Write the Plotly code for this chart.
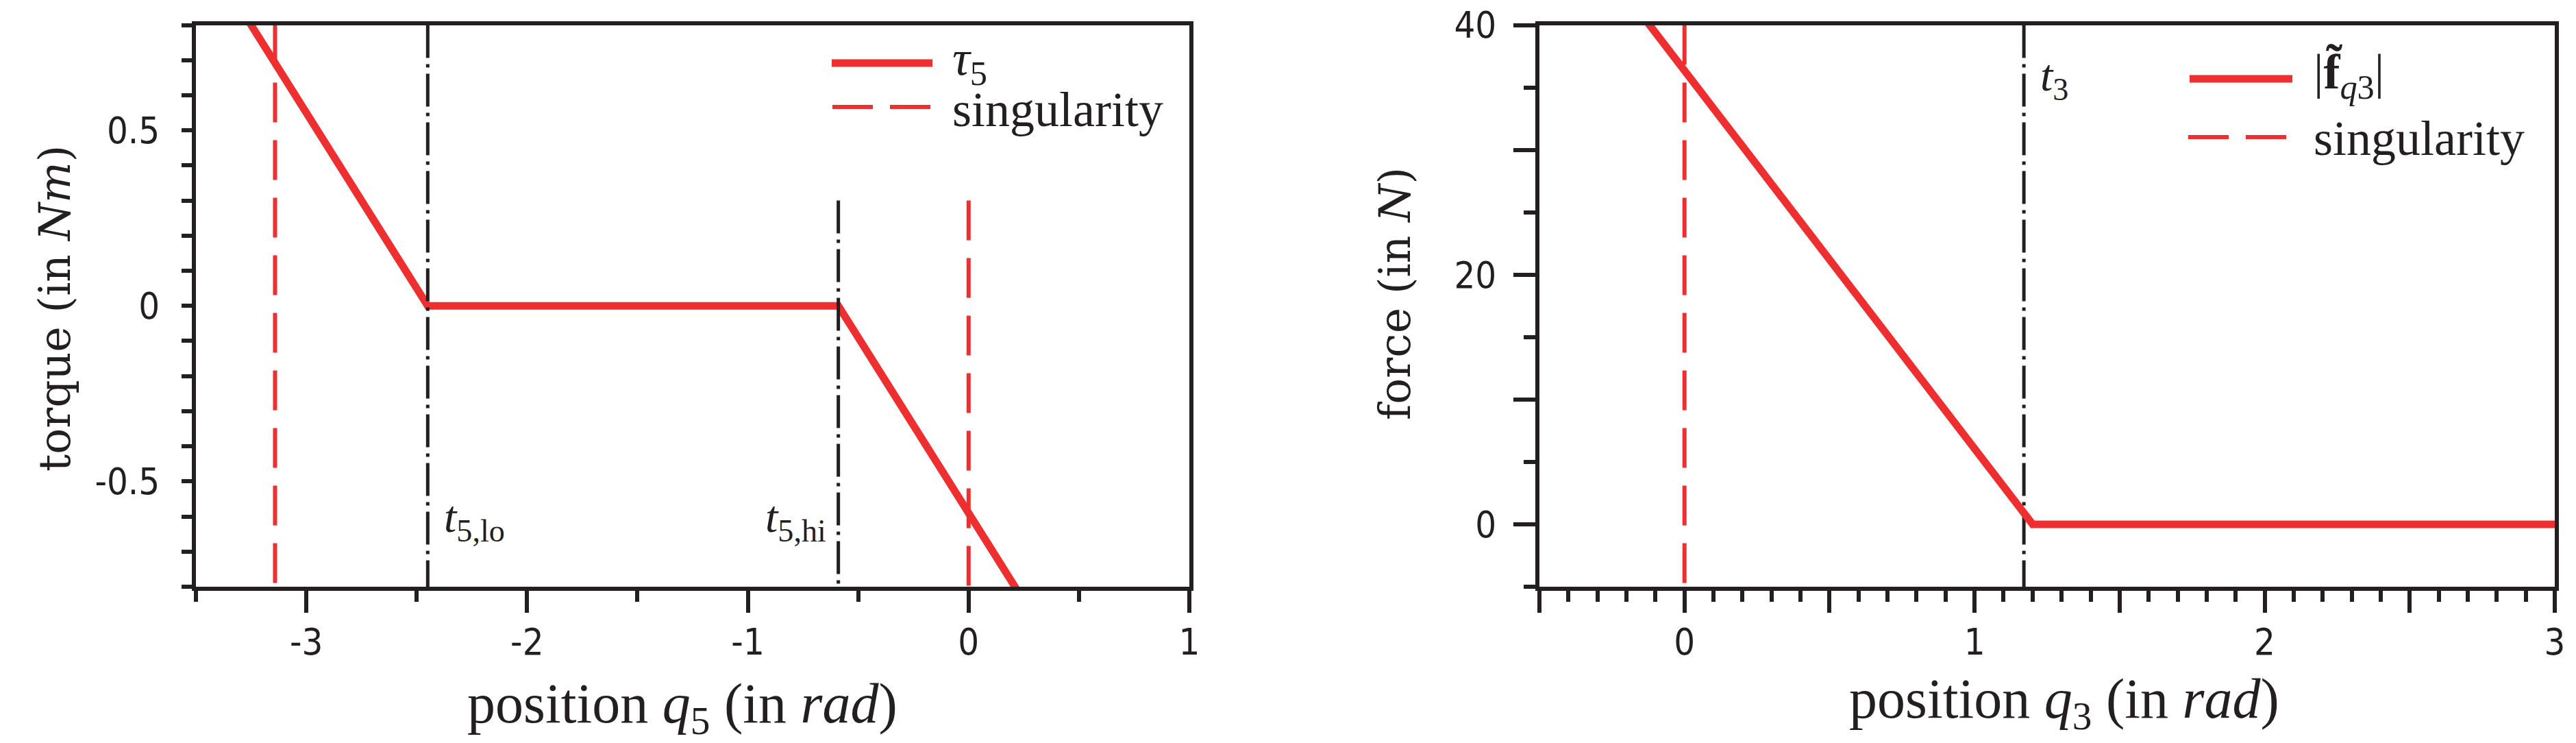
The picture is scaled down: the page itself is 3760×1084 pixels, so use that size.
import plotly.graph_objects as go

W, H = 3760, 1084
RED = "#EE2E2F"
BLACK = "#231F20"
SERIF = "Liberation Serif, Times New Roman, serif"
WIDE_SERIF = "DejaVu Serif, serif"
NARROW = "Liberation Sans Narrow, DejaVu Sans Condensed, Arial Narrow, sans-serif"

# ---------------- left panel data (torque vs q5) ----------------
q5 = [-3.30, -2.45, -0.59, 0.26]
tau5 = [0.85, 0.0, 0.0, -0.85]
q5_singular = [-3.1416, 0.0]
q5_singular_top = [0.8, 0.3]
t5_lo = -2.45
t5_hi = -0.59
t5_lo_top = 0.8
t5_hi_top = 0.3
x5_range = [-3.5, 1.0]
y5_range = [-0.8, 0.8]
x5_tickvals = [-3, -2, -1, 0, 1]
x5_ticktext = ["-3", "-2", "-1", "0", "1"]
y5_tickvals = [-0.5, 0, 0.5]
y5_ticktext = ["-0.5", "0", "0.5"]
t5_label_y = -0.61

# ---------------- right panel data (force vs q3) ----------------
q3 = [-0.16, 1.20, 3.0]
f3 = [41.2, 0.0, 0.0]
q3_singular = 0.0
t3 = 1.17
x3_range = [-0.5, 3.0]
y3_range = [-5, 40]
x3_tickvals = [-0.5, 0, 0.5, 1, 1.5, 2, 2.5, 3]
x3_ticktext = ["", "0", "", "1", "", "2", "", "3"]
y3_tickvals = [0, 10, 20, 30, 40]
y3_ticktext = ["0", "", "20", "", "40"]
t3_label_y = 35.7

SING_DASH = "58px,26px"
DASHDOT = "48px,9px,5px,9px"

fig = go.Figure()

# left panel
fig.add_trace(go.Scatter(x=q5, y=tau5, mode="lines", name="τ5",
                         line=dict(color=RED, width=11), showlegend=False,
                         xaxis="x", yaxis="y"))
for xs, top in zip(q5_singular, q5_singular_top):
    fig.add_trace(go.Scatter(x=[xs, xs], y=[top, y5_range[0]], mode="lines",
                             name="singularity", showlegend=False,
                             line=dict(color=RED, width=6, dash=SING_DASH),
                             xaxis="x", yaxis="y"))
for xs, top in [(t5_lo, t5_lo_top), (t5_hi, t5_hi_top)]:
    fig.add_trace(go.Scatter(x=[xs, xs], y=[top, y5_range[0]], mode="lines",
                             showlegend=False,
                             line=dict(color=BLACK, width=5, dash=DASHDOT),
                             xaxis="x", yaxis="y"))

# right panel
fig.add_trace(go.Scatter(x=[q3_singular, q3_singular], y=[y3_range[1], y3_range[0]],
                         mode="lines", name="singularity", showlegend=False,
                         line=dict(color=RED, width=6, dash=SING_DASH),
                         xaxis="x2", yaxis="y2"))
fig.add_trace(go.Scatter(x=[t3, t3], y=[y3_range[1], y3_range[0]], mode="lines",
                         showlegend=False,
                         line=dict(color=BLACK, width=5, dash=DASHDOT),
                         xaxis="x2", yaxis="y2"))
fig.add_trace(go.Scatter(x=q3, y=f3, mode="lines", name="|f̃q3|",
                         line=dict(color=RED, width=11), showlegend=False,
                         xaxis="x2", yaxis="y2"))

axis_common = dict(showline=True, linewidth=6, linecolor=BLACK, mirror=True,
                   ticks="outside", tickwidth=6, tickcolor=BLACK,
                   showgrid=False, zeroline=False, automargin=False,
                   tickfont=dict(family=NARROW, size=54, color=BLACK))

ydom = [1 - 856 / H, 1 - 36.5 / H]

fig.update_layout(
    width=W, height=H,
    margin=dict(l=0, r=0, t=0, b=0, pad=0, autoexpand=False),
    paper_bgcolor="white", plot_bgcolor="white",
    showlegend=False,
    xaxis=dict(domain=[286 / W, 1736 / W], range=x5_range, anchor="y",
               tickmode="array", tickvals=x5_tickvals, ticktext=x5_ticktext,
               ticklen=32, ticklabelstandoff=-4,
               minor=dict(tickmode="linear", tick0=0, dtick=0.5, ticklen=16,
                          tickwidth=6, tickcolor=BLACK, ticks="outside"),
               **axis_common),
    yaxis=dict(domain=ydom, range=y5_range, anchor="x",
               tickmode="array", tickvals=y5_tickvals, ticktext=y5_ticktext,
               ticklen=15, ticklabelstandoff=21,
               minor=dict(tickmode="linear", tick0=0, dtick=0.1, ticklen=15,
                          tickwidth=6, tickcolor=BLACK, ticks="outside"),
               **axis_common),
    xaxis2=dict(domain=[2247 / W, 3729 / W], range=x3_range, anchor="y2",
                tickmode="array", tickvals=x3_tickvals, ticktext=x3_ticktext,
                ticklen=32, ticklabelstandoff=-4,
                minor=dict(tickmode="linear", tick0=0, dtick=0.1, ticklen=16,
                           tickwidth=6, tickcolor=BLACK, ticks="outside"),
                **axis_common),
    yaxis2=dict(domain=ydom, range=y3_range, anchor="x2",
                tickmode="array", tickvals=y3_tickvals, ticktext=y3_ticktext,
                ticklen=32, ticklabelstandoff=14,
                minor=dict(tickmode="linear", tick0=0, dtick=5, ticklen=17,
                           tickwidth=6, tickcolor=BLACK, ticks="outside"),
                **axis_common),
)

xtitle_font = dict(family=SERIF, size=82, color=BLACK)
ytitle_font = dict(family=WIDE_SERIF, size=63, color=BLACK)
text_font = dict(family=SERIF, size=72, color=BLACK)
label_font = dict(family=SERIF, size=66, color=BLACK)
ann = []
# axis titles
ann.append(dict(text="position <i>q</i><sub>5</sub> (in <i>rad</i>)", xref="paper", yref="paper",
                x=996 / W, y=1 - 1032 / H, xanchor="center", yanchor="middle",
                showarrow=False, font=xtitle_font))
ann.append(dict(text="position <i>q</i><sub>3</sub> (in <i>rad</i>)", xref="paper", yref="paper",
                x=3013 / W, y=1 - 1025 / H, xanchor="center", yanchor="middle",
                showarrow=False, font=xtitle_font))
ann.append(dict(text="torque (in <i>Nm</i>)", xref="paper", yref="paper",
                x=80 / W, y=1 - 450 / H, xanchor="center", yanchor="middle",
                textangle=-90, showarrow=False, font=ytitle_font))
ann.append(dict(text="force (in <i>N</i>)", xref="paper", yref="paper",
                x=2036 / W, y=1 - 429 / H, xanchor="center", yanchor="middle",
                textangle=-90, showarrow=False, font=ytitle_font))
# threshold labels
ann.append(dict(text="<i>t</i><sub>5,lo</sub>", xref="x", yref="y", x=t5_lo, y=t5_label_y,
                xanchor="left", yanchor="middle", xshift=22, showarrow=False,
                font=label_font))
ann.append(dict(text="<i>t</i><sub>5,hi</sub>", xref="x", yref="y", x=t5_hi, y=t5_label_y,
                xanchor="right", yanchor="middle", xshift=-16, showarrow=False,
                font=label_font))
ann.append(dict(text="<i>t</i><sub>3</sub>", xref="x2", yref="y2", x=t3, y=t3_label_y,
                xanchor="left", yanchor="middle", xshift=22, showarrow=False,
                font=label_font))
# legend texts
ann.append(dict(text="<i>τ</i><sub>5</sub>", xref="paper", yref="paper",
                x=1388 / W, y=1 - 90 / H, xanchor="left", yanchor="middle",
                showarrow=False, font=text_font))
ann.append(dict(text="singularity", xref="paper", yref="paper",
                x=1388 / W, y=1 - 160 / H, xanchor="left", yanchor="middle",
                showarrow=False, font=text_font))
ann.append(dict(text="|<b>f̃</b><sub><i>q</i>3</sub>|", xref="paper", yref="paper",
                x=3375 / W, y=1 - 109 / H, xanchor="left", yanchor="middle",
                showarrow=False, font=text_font))
ann.append(dict(text="singularity", xref="paper", yref="paper",
                x=3375 / W, y=1 - 202 / H, xanchor="left", yanchor="middle",
                showarrow=False, font=text_font))
fig.update_layout(annotations=ann)

# legend samples
LEG_DASH = "59px,25px"
shapes = [
    dict(type="line", xref="paper", yref="paper", x0=1214 / W, x1=1361 / W,
         y0=1 - 92 / H, y1=1 - 92 / H, line=dict(color=RED, width=11)),
    dict(type="line", xref="paper", yref="paper", x0=1215 / W, x1=1359 / W,
         y0=1 - 156 / H, y1=1 - 156 / H, line=dict(color=RED, width=6, dash=LEG_DASH)),
    dict(type="line", xref="paper", yref="paper", x0=3196 / W, x1=3346 / W,
         y0=1 - 115 / H, y1=1 - 115 / H, line=dict(color=RED, width=11)),
    dict(type="line", xref="paper", yref="paper", x0=3194 / W, x1=3338 / W,
         y0=1 - 200 / H, y1=1 - 200 / H, line=dict(color=RED, width=6, dash=LEG_DASH)),
]
fig.update_layout(shapes=shapes)

fig.write_html("out.html", config={"displayModeBar": False},
               post_script="document.body.style.margin='0';")
